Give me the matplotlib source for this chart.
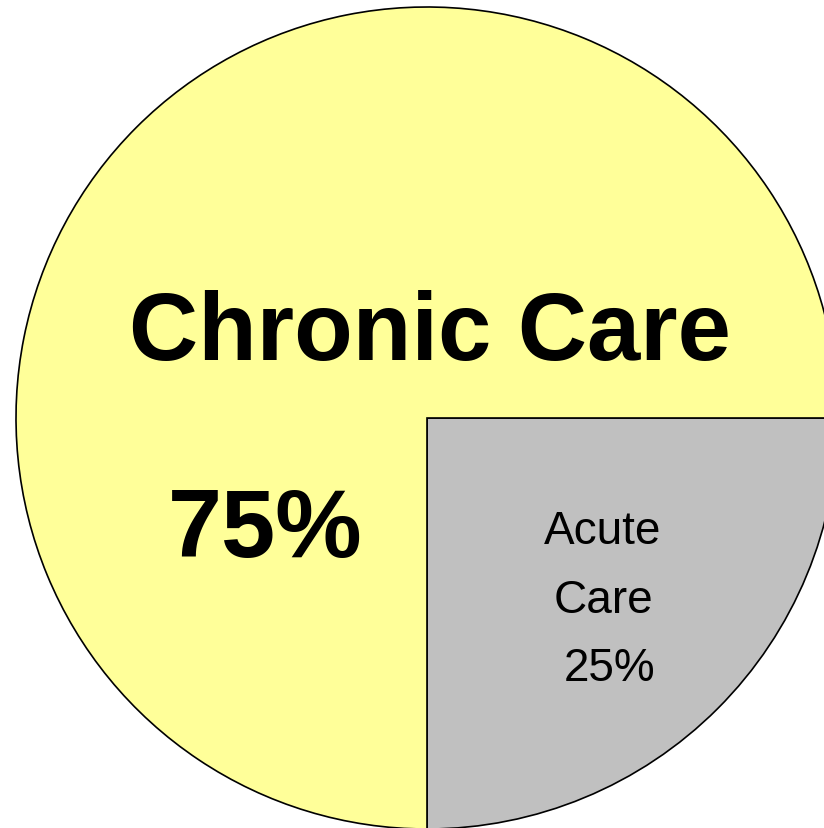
import matplotlib.pyplot as plt

labels = ['Acute Care', 'Chronic Care']
shares = [25, 75]
colors = ['#C0C0C0', '#FFFF99']

fig = plt.figure(figsize=(8.24, 8.29), dpi=100)
ax = fig.add_axes([0, 0, 1, 1])

# pie centred partly off the canvas, like the original slide
ax.pie(shares, colors=colors, startangle=0, counterclock=False,
       center=(427, 410), radius=411, frame=True,
       wedgeprops=dict(edgecolor='black', linewidth=1.2))
ax.set_xlim(0, 824)
ax.set_ylim(0, 829)
ax.set_aspect('auto')
ax.axis('off')

font = 'Liberation Sans'
ax.text(430, 494, 'Chronic Care', fontsize=69, fontweight='bold',
        family=font, ha='center', va='center')
ax.text(265, 297, f'{shares[1]}%', fontsize=70, fontweight='bold',
        family=font, ha='center', va='center')
ax.text(603, 297, 'Acute', fontsize=33, family=font, ha='center', va='center')
ax.text(603, 228, 'Care', fontsize=33, family=font, ha='center', va='center')
ax.text(610, 160, f'{shares[0]}%', fontsize=33, family=font, ha='center', va='center')

fig.savefig('out.png', dpi=100)
